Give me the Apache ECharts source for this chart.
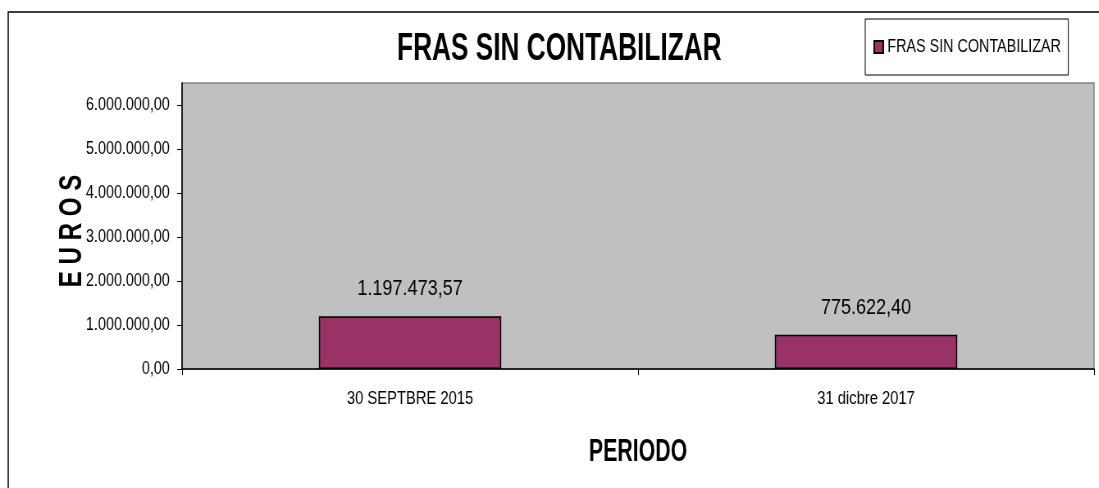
<!DOCTYPE html>
<html>
<head>
<meta charset="utf-8">
<script src="https://cdn.jsdelivr.net/npm/echarts@6/dist/echarts.min.js"></script>
<style>
  html, body { margin: 0; padding: 0; background: #fff; overflow: hidden; }
  /* lienzo mas ancho y comprimido en horizontal: imita la letra estrecha del original */
  #chart { width: 1340px; height: 488px; transform: scaleX(0.8201); transform-origin: 0 0; }
</style>
</head>
<body>
<div id="chart"></div>
<script>
var periodos = ['30 SEPTBRE 2015', '31 dicbre 2017'];
var importes = [1197473.57, 775622.40];
var ticksEuros = [0, 1000000, 2000000, 3000000, 4000000, 5000000, 6000000];
var serieNombre = 'FRAS SIN CONTABILIZAR';

var fuente = '"Liberation Sans", Arial, sans-serif';

// formato 1.234.567,89
function euros(v) {
	var partes = v.toFixed(2).split('.');
	var ent = partes[0].replace(/\B(?=(\d{3})+(?!\d))/g, '.');
	return ent + ',' + partes[1];
}

var myChart = echarts.init(document.getElementById('chart'), null, { renderer: 'canvas' });
myChart.setOption({
	animation: false,
	backgroundColor: '#ffffff',
	grid: {
		left: 222, right: 6, top: 83, bottom: 119,
		show: true,
		backgroundColor: '#C0C0C0',
		borderColor: '#808080',
		borderWidth: 1.5
	},
	legend: {
		data: [serieNombre],
		left: 1055, top: 19,
		orient: 'horizontal',
		padding: [19, 9, 19, 10],
		borderColor: '#000',
		borderWidth: 1,
		icon: 'rect',
		itemWidth: 11, itemHeight: 12, itemGap: 5,
		itemStyle: { color: '#993366', borderColor: '#000', borderWidth: 2 },
		textStyle: { fontFamily: fuente, fontSize: 17.5, color: '#000' }
	},
	xAxis: {
		type: 'category',
		data: periodos,
		axisLine: { lineStyle: { color: '#000', width: 1.5 } },
		axisTick: { show: true, alignWithLabel: false, length: 6, lineStyle: { color: '#000' } },
		axisLabel: { fontFamily: fuente, fontSize: 18, color: '#000', margin: 21 }
	},
	yAxis: {
		type: 'value',
		min: 0, max: 6500000, interval: 1000000,
		axisLine: { show: true, lineStyle: { color: '#000', width: 1.5 } },
		axisTick: { show: true, length: 6, lineStyle: { color: '#000' }, customValues: ticksEuros },
		splitLine: { show: false },
		axisLabel: {
			fontFamily: fuente, fontSize: 17.5, color: '#000', margin: 15,
			customValues: ticksEuros,
			formatter: function (v) { return ticksEuros.indexOf(v) >= 0 ? euros(v) : ''; }
		}
	},
	series: [{
		name: serieNombre,
		type: 'bar',
		data: importes,
		barWidth: '40%',
		itemStyle: { color: '#993366', borderColor: '#000', borderWidth: 1.5 },
		label: {
			show: true, position: 'top', distance: 16,
			fontFamily: fuente, fontSize: 22, color: '#000',
			formatter: function (p) { return euros(p.value); }
		}
	}],
	graphic: [
		{
			type: 'rect', z: -10, silent: true,
			shape: { x: 10, y: 12, width: 1500, height: 600 },
			style: { fill: null, stroke: '#000', lineWidth: 1.5 }
		},
		{
			type: 'text', x: 682, y: 49, scaleY: 1.2,
			style: {
				text: 'FRAS SIN CONTABILIZAR', fontFamily: fuente, fontWeight: 'bold', fontSize: 32,
				fill: '#000', align: 'center', verticalAlign: 'middle'
			}
		},
		{
			type: 'text', x: 778, y: 452, scaleY: 1.23,
			style: {
				text: 'PERIODO', fontFamily: fuente, fontWeight: 'bold', fontSize: 26,
				fill: '#000', align: 'center', verticalAlign: 'middle'
			}
		},
		{
			type: 'text', x: 88, y: 231, rotation: Math.PI / 2, scaleX: 0.86, scaleY: 1.4,
			style: {
				text: 'E U R O S', fontFamily: fuente, fontWeight: 'bold', fontSize: 28,
				fill: '#000', align: 'center', verticalAlign: 'middle'
			}
		}
	]
});
</script>
</body>
</html>
